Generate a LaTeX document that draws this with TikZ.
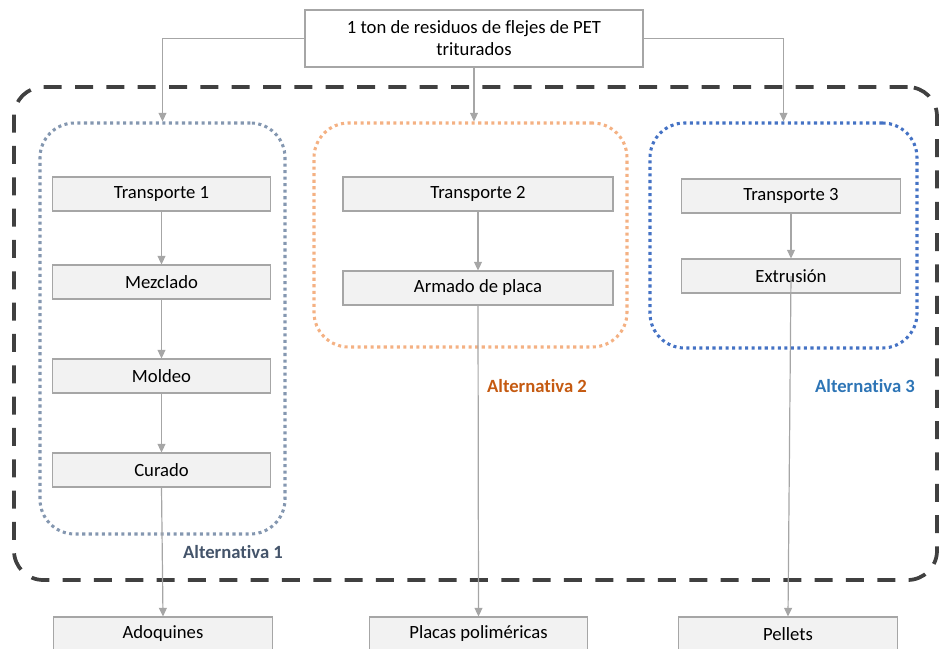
\documentclass[tikz,border=0pt]{standalone}
\usepackage{fontspec}
\setmainfont[Ligatures=NoCommon]{Carlito}
\usetikzlibrary{fit, positioning, arrows.meta}
\definecolor{boxGrey}{HTML}{F2F2F2}
\definecolor{lineGrey}{HTML}{A6A6A6}
\definecolor{frameDark}{HTML}{404040}
\definecolor{altSlate}{HTML}{8497B0}
\definecolor{altOrange}{HTML}{F4B183}
\definecolor{altBlue}{HTML}{4472C4}
\definecolor{labelSlate}{HTML}{44546A}
\definecolor{labelOrange}{HTML}{C55A11}
\definecolor{labelBlue}{HTML}{2E75B6}
\begin{document}
\begin{tikzpicture} [
        x=0.75pt, y=-0.75pt,
        font=\fontsize{14}{16.5}\selectfont,
        step box/.style={draw=lineGrey, fill=boxGrey, line width=0.8pt, minimum width=164pt, minimum height=25.5pt, inner sep=0pt},
        wide box/.style={step box, minimum width=202.5pt},
        input box/.style={draw=lineGrey, fill=white, line width=0.8pt, minimum width=253.5pt, minimum height=42.75pt, align=center, inner sep=0pt},
        outer frame/.style={draw=frameDark, line width=2.8pt, dash pattern=on 13.5pt off 10pt, rounded corners=22pt, inner sep=0pt},
        alt frame/.style={line width=2.3pt, dash pattern=on 2.3pt off 2.6pt, rounded corners=26pt, inner sep=0pt},
        alt label/.style={font=\fontsize{14}{16.5}\selectfont\bfseries},
        conn/.style={draw=lineGrey, line width=0.9pt},
        arrow/.style={conn, -{Triangle[length=6.5pt, width=6pt]}},
    ]
    \useasboundingbox (0,0) rectangle (939,649);

    % frames
    \node[outer frame, fit={(14,87) (937,580)}] (alternativas) {};
    \node[alt frame, draw=altSlate, fit={(40,123) (285,534)}] (alt 1) {};
    \node[alt frame, draw=altOrange, fit={(314,123) (627,347)}] (alt 2) {};
    \node[alt frame, draw=altBlue, fit={(650,123) (917,348)}] (alt 3) {};

    \path (474,38.5) node[input box] (residuos) {1 ton de residuos de flejes de PET\\triturados};

    % alternativa 1
    \path (161.5,194) node[step box] (t1) {Transporte 1};
    \path (161.5,282) node[step box] (mezclado) {Mezclado};
    \path (161.5,376) node[step box] (moldeo) {Moldeo};
    \path (161.5,470) node[step box] (curado) {Curado};
    \path (233,552) node[alt label, text=labelSlate] (lab 1) {Alternativa 1};

    % alternativa 2
    \path (478,194) node[wide box] (t2) {Transporte 2};
    \path (478,288) node[wide box] (armado) {Armado de placa};
    \path (537,386) node[alt label, text=labelOrange] (lab 2) {Alternativa 2};

    % alternativa 3
    \path (791,196) node[step box] (t3) {Transporte 3};
    \path (791,276) node[step box] (extrusion) {Extrusión};
    \path (865,386) node[alt label, text=labelBlue] (lab 3) {Alternativa 3};

    % productos
    \path (163,634) node[step box] (adoquines) {Adoquines};
    \path (478.5,634) node[step box] (placas) {Placas poliméricas};
    \path (788,634) node[step box] (pellets) {Pellets};

    \draw[arrow] (residuos.west) -| (alt 1.north);
    \draw[arrow] (residuos.east) -| (alt 3.north);
    \draw[arrow] (residuos.south) -- (residuos.south |- alt 2.north);

    \draw[arrow] (t1) -- (mezclado);
    \draw[arrow] (mezclado) -- (moldeo);
    \draw[arrow] (moldeo) -- (curado);
    \draw[arrow] (t2) -- (armado);
    \draw[arrow] (t3) -- (extrusion);

    \draw[arrow] (curado.south) -- (adoquines.north);
    \draw[arrow] (armado.south) -- (placas.north);
    \draw[arrow] (extrusion.center) -- (pellets.north);

\end{tikzpicture}
\end{document}
